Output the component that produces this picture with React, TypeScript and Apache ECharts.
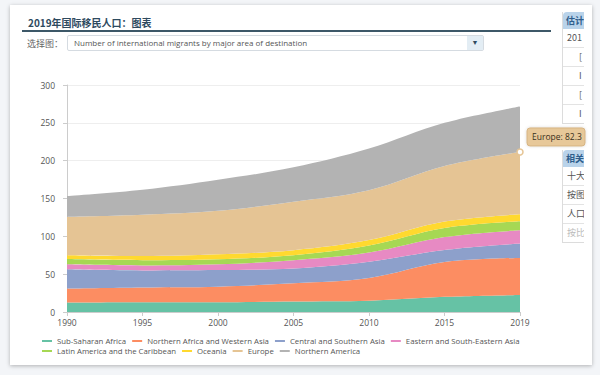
import React, { useEffect, useRef } from "react";
import * as echarts from "echarts";

const years = ["1990", "1995", "2000", "2005", "2010", "2015", "2019"];
const seriesNames = [
  "Sub-Saharan Africa",
  "Northern Africa and Western Asia",
  "Central and Southern Asia",
  "Eastern and South-Eastern Asia",
  "Latin America and the Caribbean",
  "Oceania",
  "Europe",
  "Northern America",
];
const subSaharanAfrica = [12.5, 13, 13, 14, 15, 20, 22.5];
const northernAfricaWesternAsia = [18.5, 19.5, 20.5, 24, 30, 46, 49];
const centralSouthernAsia = [25.5, 22.5, 22, 19.5, 21.5, 16, 19];
const easternSouthEasternAsia = [6.5, 6.5, 7.5, 11, 12, 17, 17.5];
const latinAmericaCaribbean = [7, 7, 6.7, 6.6, 9.5, 12, 12];
const oceania = [5, 5.5, 6.5, 6.6, 7, 8.5, 9.2];
const europe = [50.7, 54.5, 57.5, 64, 66, 73.5, 82.3];
const northernAmerica = [27.5, 33, 41, 45.5, 55, 57, 60];
const yTicks = [0, 50, 100, 150, 200, 250, 300];
const colors = ["#66c2a5", "#fc8d62", "#8da0cb", "#e78ac3", "#a6d854", "#ffd92f", "#e5c494", "#b3b3b3"];

const allSeries = [
  subSaharanAfrica,
  northernAfricaWesternAsia,
  centralSouthernAsia,
  easternSouthEasternAsia,
  latinAmericaCaribbean,
  oceania,
  europe,
  northernAmerica,
];

const highlightSeries = 6;
const highlightIndex = 6;

const latin = "'Open Sans', 'Noto Sans', sans-serif";
const cjk = "'Noto Sans CJK SC', 'Open Sans', sans-serif";

export default function App() {
  const ref = useRef<HTMLDivElement>(null);
  useEffect(() => {
    if (!ref.current) return;
    const chart = echarts.init(ref.current, undefined, { renderer: "svg" });
    const legendBase = {
      left: 37,
      icon: "rect",
      itemWidth: 10,
      itemHeight: 2,
      itemGap: 6,
      textStyle: { fontSize: 7.8, color: "#555", fontFamily: latin },
    };
    chart.setOption({
      animation: false,
      backgroundColor: "transparent",
      color: colors,
      grid: { left: 67, right: 80, top: 85, bottom: 63, containLabel: false },
      legend: [
        { ...legendBase, top: 332, data: seriesNames.slice(0, 4) },
        { ...legendBase, top: 342, data: seriesNames.slice(4) },
      ],
      xAxis: {
        type: "category",
        boundaryGap: false,
        data: years,
        axisLine: { show: true, lineStyle: { color: "#ccc" } },
        axisTick: { show: true, alignWithLabel: true, length: 4, lineStyle: { color: "#ccc" } },
        axisLabel: { color: "#555", fontSize: 8.5, fontFamily: latin, margin: 6 },
      },
      yAxis: {
        type: "value",
        min: yTicks[0],
        max: yTicks[yTicks.length - 1],
        interval: yTicks[1] - yTicks[0],
        axisLine: { show: true, lineStyle: { color: "#ccc" } },
        axisTick: { show: true, length: 4, lineStyle: { color: "#ccc" } },
        splitLine: { lineStyle: { color: "#eeeeee" } },
        axisLabel: { color: "#555", fontSize: 8.5, fontFamily: latin, margin: 12 },
      },
      series: allSeries.map((d, i) => ({
        name: seriesNames[i],
        type: "line",
        stack: "total",
        smooth: 0.35,
        symbol: "none",
        showSymbol: false,
        lineStyle: { width: 0 },
        areaStyle: { color: colors[i], opacity: 1 },
        itemStyle: { color: colors[i] },
        data: d,
      })),
    });

    let stacked = 0;
    for (let s = 0; s <= highlightSeries; s++) stacked += allSeries[s][highlightIndex];
    const pt = chart.convertToPixel({ gridIndex: 0 }, [highlightIndex, stacked]) as number[];
    const label = `${seriesNames[highlightSeries]}: ${allSeries[highlightSeries][highlightIndex]}`;
    chart.setOption({
      graphic: [
        {
          type: "circle",
          x: pt[0],
          y: pt[1],
          shape: { r: 3 },
          style: { fill: "#fff", stroke: colors[highlightSeries], lineWidth: 1.5 },
          z: 100,
        },
        {
          type: "group",
          x: pt[0] + 7,
          y: pt[1] - 24,
          z: 100,
          children: [
            {
              type: "rect",
              shape: { x: 0, y: 0, width: 58, height: 18, r: 3 },
              style: { fill: "#e7c899", stroke: "#d6b483", lineWidth: 1, shadowBlur: 3, shadowColor: "rgba(0,0,0,0.15)" },
            },
            {
              type: "text",
              x: 5,
              y: 9,
              style: { text: label, fill: "#3a3020", fontSize: 8.5, fontFamily: latin, verticalAlign: "middle" },
            },
          ],
        },
      ],
    });
    return () => chart.dispose();
  }, []);

  const rowStyle: React.CSSProperties = {
    height: 18,
    borderTop: "1px solid #e3e3e3",
    fontSize: 9,
    lineHeight: "18px",
    color: "#555",
    paddingLeft: 4,
    whiteSpace: "nowrap",
    fontFamily: cjk,
  };

  return (
    <div style={{ position: "fixed", left: 0, top: 0, width: 600, height: 375, background: "#f3f5f8", overflow: "hidden" }}>
      <div
        style={{
          position: "absolute",
          left: 10,
          top: 5,
          width: 582,
          height: 360,
          background: "#fff",
          boxShadow: "0 1px 4px rgba(0,0,0,0.28)",
        }}
      />
      <div
        style={{
          position: "absolute",
          left: 28,
          top: 15,
          fontFamily: cjk,
          fontWeight: 700,
          fontSize: 10,
          color: "#2e4a5f",
          whiteSpace: "nowrap",
        }}
      >
        2019年国际移民人口：图表
      </div>
      <div style={{ position: "absolute", left: 22, top: 30, width: 529, height: 2, background: "#3d5868" }} />
      <div style={{ position: "absolute", left: 27, top: 37, fontFamily: cjk, fontSize: 9, color: "#666", whiteSpace: "nowrap" }}>
        选择图：
      </div>
      <div
        style={{
          position: "absolute",
          left: 67,
          top: 35,
          width: 417,
          height: 16,
          border: "1px solid #d5dbe1",
          borderRadius: 2,
          background: "#fff",
          boxSizing: "border-box",
        }}
      >
        <div style={{ position: "absolute", left: 6, top: 1, fontFamily: latin, fontSize: 8, color: "#555", whiteSpace: "nowrap" }}>
          Number of international migrants by major area of destination
        </div>
        <div
          style={{
            position: "absolute",
            right: 0,
            top: 0,
            width: 16,
            height: 14,
            background: "#e3edf4",
            fontSize: 7,
            lineHeight: "14px",
            textAlign: "center",
            color: "#2e4a5f",
          }}
        >
          ▼
        </div>
      </div>
      <div style={{ position: "absolute", left: 562, top: 12, width: 22, height: 240, overflow: "hidden" }}>
        <div style={{ width: 100, border: "1px solid #dcdcdc", borderTop: "none", background: "#fff" }}>
          <div
            style={{
              height: 17,
              background: "#b9d3ea",
              borderRadius: "4px 4px 0 0",
              fontFamily: cjk,
              fontWeight: 700,
              fontSize: 9,
              lineHeight: "17px",
              color: "#2f5e8c",
              paddingLeft: 3,
            }}
          >
            估计
          </div>
          <div style={{ ...rowStyle, borderTop: "none" }}>201</div>
          <div style={rowStyle}>
            <span style={{ paddingLeft: 12 }}>[</span>
          </div>
          <div style={rowStyle}>
            <span style={{ paddingLeft: 12 }}>I</span>
          </div>
          <div style={rowStyle}>
            <span style={{ paddingLeft: 12 }}>[</span>
          </div>
          <div style={rowStyle}>
            <span style={{ paddingLeft: 12 }}>I</span>
          </div>
        </div>
        <div style={{ height: 26 }} />
        <div style={{ width: 100, border: "1px solid #dcdcdc", borderTop: "none", background: "#fff" }}>
          <div
            style={{
              height: 17,
              background: "#b9d3ea",
              borderRadius: "4px 4px 0 0",
              fontFamily: cjk,
              fontWeight: 700,
              fontSize: 9,
              lineHeight: "17px",
              color: "#2f5e8c",
              paddingLeft: 3,
            }}
          >
            相关
          </div>
          <div style={{ ...rowStyle, borderTop: "none" }}>十大</div>
          <div style={rowStyle}>按图</div>
          <div style={rowStyle}>人口</div>
          <div style={{ ...rowStyle, color: "#bbb" }}>按比</div>
        </div>
      </div>
      <div ref={ref} style={{ position: "absolute", left: 0, top: 0, width: 600, height: 375 }} />
    </div>
  );
}
